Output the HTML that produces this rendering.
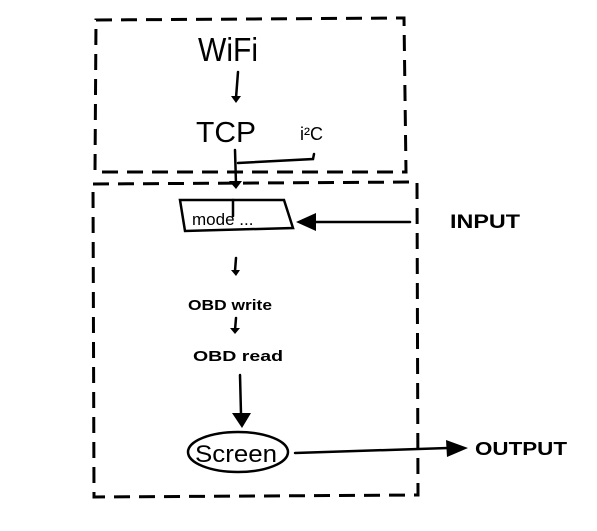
<!DOCTYPE html>
<html><head><style>body{margin:0;background:#fff}svg{display:block}</style></head><body>
<svg width="597" height="531" xmlns="http://www.w3.org/2000/svg" font-family="Liberation Sans, sans-serif">
<g fill="none" stroke="#000" stroke-width="3" stroke-dasharray="16,9">
<path d="M96 20 L404 18 L406 172 L95 172 Z"/>
<path d="M93 184 L417 182 L418 495 L94 497 Z"/>
</g>
<g stroke="#000" stroke-width="2.5" fill="none" stroke-linecap="round">
<path d="M238 72 L236 98"/>
<path d="M235 150 L236 184"/>
<path d="M238 163 L313 159 L314 154"/>
<path d="M180 200 L284 200 L293 228 L185 231 Z"/>
<path d="M233 200 L233 216"/>
<path d="M410 222 L302 222"/>
<path d="M236 258 L235 271"/>
<path d="M236 318 L235 330"/>
<path d="M240 375 L241 414"/>
<ellipse cx="238" cy="452" rx="50" ry="20"/>
<path d="M295 453 L448 448"/>
</g>
<g fill="#000">
<path d="M231 96 L241 96 L236 103 Z"/>
<path d="M229 181 L242 181 L236 189 Z"/>
<path d="M296 222 L316 213 L316 231 Z"/>
<path d="M231 270 L240 270 L236 276 Z"/>
<path d="M230 328 L240 328 L235 334 Z"/>
<path d="M232 413 L251 413 L242 428 Z"/>
<path d="M446 440 L468 448 L447 457 Z"/>
</g>
<g fill="#000">
<text x="198" y="61" font-size="33" textLength="60" lengthAdjust="spacingAndGlyphs">WiFi</text>
<text x="196" y="142" font-size="29" textLength="60" lengthAdjust="spacingAndGlyphs">TCP</text>
<text x="300" y="140" font-size="18">i²C</text>
<text x="192" y="225" font-size="17">mode ...</text>
<text x="450" y="228" font-size="19" font-weight="bold" textLength="70" lengthAdjust="spacingAndGlyphs">INPUT</text>
<text x="188" y="310" font-size="15" font-weight="bold" textLength="84" lengthAdjust="spacingAndGlyphs">OBD write</text>
<text x="193" y="361" font-size="15" font-weight="bold" textLength="90" lengthAdjust="spacingAndGlyphs">OBD read</text>
<text x="195" y="462" font-size="24" textLength="82" lengthAdjust="spacingAndGlyphs">Screen</text>
<text x="475" y="455" font-size="18" font-weight="bold" textLength="92" lengthAdjust="spacingAndGlyphs">OUTPUT</text>
</g>
</svg>
</body></html>
